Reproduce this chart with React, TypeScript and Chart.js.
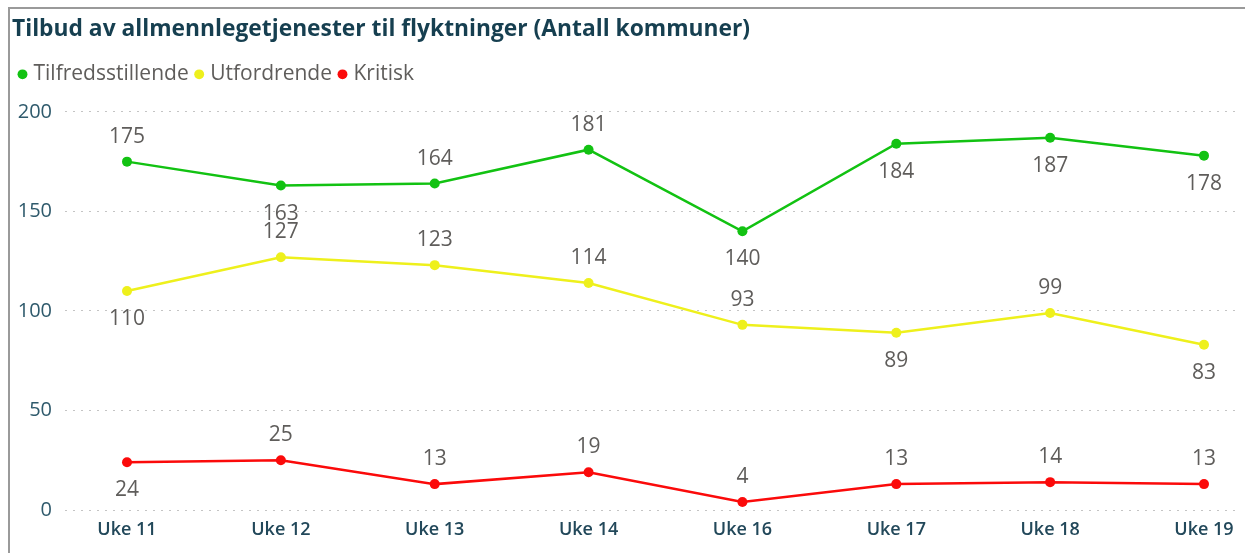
import React, { useEffect, useRef } from "react";
import { Chart, registerables } from "chart.js";

Chart.register(...registerables);

const categories = ["Uke 11", "Uke 12", "Uke 13", "Uke 14", "Uke 16", "Uke 17", "Uke 18", "Uke 19"];
const tilfredsstillende = [175, 163, 164, 181, 140, 184, 187, 178];
const utfordrende = [110, 127, 123, 114, 93, 89, 99, 83];
const kritisk = [24, 25, 13, 19, 4, 13, 14, 13];
// label placement per point: 1 = above, -1 = below
const greenLabelSide = [1, -1, 1, 1, -1, -1, -1, -1];
const yellowLabelSide = [-1, 1, 1, 1, 1, -1, 1, -1];
const redLabelSide = [-1, 1, 1, 1, 1, 1, 1, 1];
const yTicks = [0, 50, 100, 150, 200];

const GREEN = "#12c212";
const YELLOW = "#eef01c";
const RED = "#fb0a0a";

const dataLabelPlugin = {
  id: "pointLabels",
  afterDatasetsDraw(chart: any) {
    const ctx = chart.ctx;
    ctx.save();
    ctx.font = "21px 'Open Sans'";
    ctx.fillStyle = "#5f5d5b";
    ctx.textAlign = "center";
    ctx.textBaseline = "middle";
    chart.data.datasets.forEach((ds: any, di: number) => {
      const meta = chart.getDatasetMeta(di);
      meta.data.forEach((pt: any, i: number) => {
        const side = ds.labelSide[i];
        const y = side > 0 ? pt.y - 25 : pt.y + 28;
        ctx.fillText(String(ds.data[i].y), pt.x, y);
      });
    });
    ctx.restore();
  },
};

const legendSpacingPlugin = {
  id: "legendSpacing",
  beforeLayout(chart: any) {
    const lg = chart.legend;
    if (lg && !lg._patched) {
      const orig = lg.fit.bind(lg);
      lg.fit = function () {
        orig();
        this.height += 17;
      };
      lg._patched = true;
    }
  },
};

const toPoints = (arr: number[]) => arr.map((v, i) => ({ x: i, y: v }));

export default function App() {
  const ref = useRef<HTMLCanvasElement>(null);
  useEffect(() => {
    if (!ref.current) return;
    const mk = (label: string, data: number[], color: string, side: number[]) => ({
      label,
      data: toPoints(data),
      borderColor: color,
      backgroundColor: color,
      pointBackgroundColor: color,
      pointBorderWidth: 0,
      pointRadius: 5,
      borderWidth: 2.5,
      tension: 0,
      labelSide: side,
    });
    const chart = new Chart(ref.current, {
      type: "line",
      data: {
        datasets: [
          mk("Tilfredsstillende", tilfredsstillende, GREEN, greenLabelSide),
          mk("Utfordrende", utfordrende, YELLOW, yellowLabelSide),
          mk("Kritisk", kritisk, RED, redLabelSide),
        ] as any,
      },
      options: {
        animation: false,
        responsive: false,
        maintainAspectRatio: false,
        layout: { padding: { top: 16, right: 5, bottom: 13, left: 12 } },
        plugins: {
          title: {
            display: true,
            text: "Tilbud av allmennlegetjenester til flyktninger (Antall kommuner)",
            align: "start",
            color: "#163f50",
            font: { family: "'Open Sans'", size: 22.8, weight: "bold" },
            padding: { top: 0, bottom: 10.5 },
          },
          legend: {
            display: true,
            align: "start",
            labels: {
              usePointStyle: true,
              pointStyle: "circle",
              boxHeight: 7,
              boxWidth: 1,
              color: "#5f5d5b",
              font: { family: "'Open Sans'", size: 21 },
              padding: 10,
            },
          },
          tooltip: { enabled: false },
        },
        scales: {
          x: {
            type: "linear",
            min: -0.403,
            max: 7.234,
            grid: { display: false, drawTicks: false },
            border: { display: false },
            afterBuildTicks: (scale: any) => {
              scale.ticks = categories.map((_, i) => ({ value: i }));
            },
            afterFit: (scale: any) => {
              scale.height = 30;
            },
            ticks: {
              padding: 9,
              autoSkip: false,
              maxRotation: 0,
              color: "#22485a",
              font: { family: "'Open Sans'", size: 18, weight: 600 },
              callback: (v: any) => categories[v] ?? "",
            },
          },
          y: {
            min: 0,
            max: 200,
            afterBuildTicks: (scale: any) => {
              scale.ticks = yTicks.map((v) => ({ value: v }));
            },
            afterFit: (scale: any) => {
              scale.width = 53;
            },
            grid: {
              color: "#c4c4c4",
              lineWidth: 1,
              drawTicks: false,
            },
            border: { display: false, dash: [2, 6] },
            ticks: {
              padding: 13,
              color: "#2f5a6c",
              font: { family: "'Open Sans'", size: 20 },
            },
          },
        },
      } as any,
      plugins: [legendSpacingPlugin, dataLabelPlugin],
    });
    return () => chart.destroy();
  }, []);

  return (
    <>
      <div style={{ position: "fixed", left: 0, top: 0, width: 1245, height: 553, background: "#fff" }}>
        <canvas ref={ref} width={1245} height={553} style={{ display: "block" }} />
      </div>
      <div
        style={{
          position: "fixed",
          left: 8,
          top: 7,
          width: 1237,
          height: 546,
          borderTop: "2px solid #9a9a9a",
          borderLeft: "2px solid #9a9a9a",
          boxSizing: "border-box",
          pointerEvents: "none",
        }}
      />
    </>
  );
}
